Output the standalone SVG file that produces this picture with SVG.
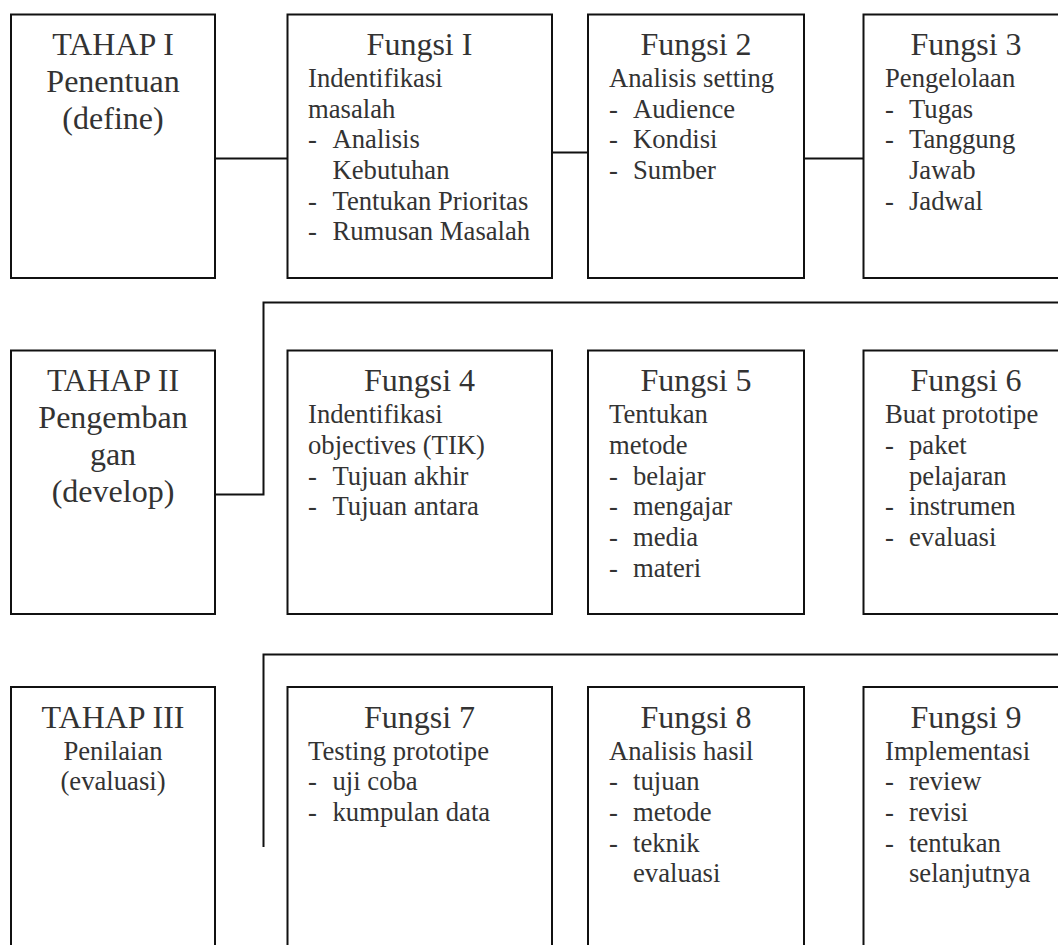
<svg xmlns="http://www.w3.org/2000/svg" width="1058" height="945" viewBox="0 0 1058 945">
<style>
.box{fill:#fff;stroke:#111;stroke-width:2}
.con{fill:none;stroke:#111;stroke-width:2}
text{font-family:"Liberation Serif","Times New Roman",serif;fill:#333}
.t{font-size:32px;text-anchor:middle}
.b{font-size:26.67px}
.bc{font-size:26.67px;text-anchor:middle}
</style>
<rect width="1058" height="945" fill="#fff"/>
<g id="connectors">
<line class="con" x1="215" y1="158.5" x2="287.5" y2="158.5"/>
<line class="con" x1="552" y1="152.5" x2="588" y2="152.5"/>
<line class="con" x1="804" y1="158.5" x2="863" y2="158.5"/>
<polyline class="con" points="215,494.5 263.5,494.5 263.5,302.5 1060,302.5"/>
<polyline class="con" points="263.5,847 263.5,654.5 1060,654.5"/>
</g>
<g id="tahap1">
<rect class="box" x="11" y="14.5" width="204" height="263.5"/>
<text class="t" x="113" y="55">TAHAP I</text>
<text class="t" x="113" y="91.8">Penentuan</text>
<text class="t" x="113" y="128.6">(define)</text>
</g>
<g id="fungsi1">
<rect class="box" x="287.5" y="14.5" width="264.5" height="263.5"/>
<text class="t" x="419.5" y="55">Fungsi I</text>
<text class="b" x="308" y="87">Indentifikasi</text>
<text class="b" x="308" y="117.7">masalah</text>
<text class="b" x="308" y="148.3">-</text><text class="b" x="332.5" y="148.3">Analisis</text>
<text class="b" x="332.5" y="179">Kebutuhan</text>
<text class="b" x="308" y="209.7">-</text><text class="b" x="332.5" y="209.7">Tentukan Prioritas</text>
<text class="b" x="308" y="240.3">-</text><text class="b" x="332.5" y="240.3">Rumusan Masalah</text>
</g>
<g id="fungsi2">
<rect class="box" x="588" y="14.5" width="216" height="263.5"/>
<text class="t" x="696" y="55">Fungsi 2</text>
<text class="b" x="609" y="87">Analisis setting</text>
<text class="b" x="609" y="117.7">-</text><text class="b" x="633" y="117.7">Audience</text>
<text class="b" x="609" y="148.3">-</text><text class="b" x="633" y="148.3">Kondisi</text>
<text class="b" x="609" y="179">-</text><text class="b" x="633" y="179">Sumber</text>
</g>
<g id="fungsi3">
<rect class="box" x="863.5" y="14.5" width="206" height="263.5"/>
<text class="t" x="966" y="55">Fungsi 3</text>
<text class="b" x="885" y="87">Pengelolaan</text>
<text class="b" x="885" y="117.7">-</text><text class="b" x="909" y="117.7">Tugas</text>
<text class="b" x="885" y="148.3">-</text><text class="b" x="909" y="148.3">Tanggung</text>
<text class="b" x="909" y="179">Jawab</text>
<text class="b" x="885" y="209.7">-</text><text class="b" x="909" y="209.7">Jadwal</text>
</g>
<g id="tahap2">
<rect class="box" x="11" y="350.5" width="204" height="263.5"/>
<text class="t" x="113" y="391.2">TAHAP II</text>
<text class="t" x="113" y="428">Pengemban</text>
<text class="t" x="113" y="464.8">gan</text>
<text class="t" x="113" y="501.6">(develop)</text>
</g>
<g id="fungsi4">
<rect class="box" x="287.5" y="350.5" width="264.5" height="263.5"/>
<text class="t" x="419.5" y="391.2">Fungsi 4</text>
<text class="b" x="308" y="423.2">Indentifikasi</text>
<text class="b" x="308" y="453.9">objectives (TIK)</text>
<text class="b" x="308" y="484.5">-</text><text class="b" x="332.5" y="484.5">Tujuan akhir</text>
<text class="b" x="308" y="515.2">-</text><text class="b" x="332.5" y="515.2">Tujuan antara</text>
</g>
<g id="fungsi5">
<rect class="box" x="588" y="350.5" width="216" height="263.5"/>
<text class="t" x="696" y="391.2">Fungsi 5</text>
<text class="b" x="609" y="423.2">Tentukan</text>
<text class="b" x="609" y="453.9">metode</text>
<text class="b" x="609" y="484.5">-</text><text class="b" x="633" y="484.5">belajar</text>
<text class="b" x="609" y="515.2">-</text><text class="b" x="633" y="515.2">mengajar</text>
<text class="b" x="609" y="545.9">-</text><text class="b" x="633" y="545.9">media</text>
<text class="b" x="609" y="576.5">-</text><text class="b" x="633" y="576.5">materi</text>
</g>
<g id="fungsi6">
<rect class="box" x="863.5" y="350.5" width="206" height="263.5"/>
<text class="t" x="966" y="391.2">Fungsi 6</text>
<text class="b" x="885" y="423.2">Buat prototipe</text>
<text class="b" x="885" y="453.9">-</text><text class="b" x="909" y="453.9">paket</text>
<text class="b" x="909" y="484.5">pelajaran</text>
<text class="b" x="885" y="515.2">-</text><text class="b" x="909" y="515.2">instrumen</text>
<text class="b" x="885" y="545.9">-</text><text class="b" x="909" y="545.9">evaluasi</text>
</g>
<g id="tahap3">
<rect class="box" x="11" y="687" width="204" height="280"/>
<text class="t" x="113" y="727.5">TAHAP III</text>
<text class="bc" x="113" y="759.5">Penilaian</text>
<text class="bc" x="113" y="790.2">(evaluasi)</text>
</g>
<g id="fungsi7">
<rect class="box" x="287.5" y="687" width="264.5" height="280"/>
<text class="t" x="419.5" y="727.5">Fungsi 7</text>
<text class="b" x="308" y="759.5">Testing prototipe</text>
<text class="b" x="308" y="790.2">-</text><text class="b" x="332.5" y="790.2">uji coba</text>
<text class="b" x="308" y="820.8">-</text><text class="b" x="332.5" y="820.8">kumpulan data</text>
</g>
<g id="fungsi8">
<rect class="box" x="588" y="687" width="216" height="280"/>
<text class="t" x="696" y="727.5">Fungsi 8</text>
<text class="b" x="609" y="759.5">Analisis hasil</text>
<text class="b" x="609" y="790.2">-</text><text class="b" x="633" y="790.2">tujuan</text>
<text class="b" x="609" y="820.8">-</text><text class="b" x="633" y="820.8">metode</text>
<text class="b" x="609" y="851.5">-</text><text class="b" x="633" y="851.5">teknik</text>
<text class="b" x="633" y="882.2">evaluasi</text>
</g>
<g id="fungsi9">
<rect class="box" x="863.5" y="687" width="206" height="280"/>
<text class="t" x="966" y="727.5">Fungsi 9</text>
<text class="b" x="885" y="759.5">Implementasi</text>
<text class="b" x="885" y="790.2">-</text><text class="b" x="909" y="790.2">review</text>
<text class="b" x="885" y="820.8">-</text><text class="b" x="909" y="820.8">revisi</text>
<text class="b" x="885" y="851.5">-</text><text class="b" x="909" y="851.5">tentukan</text>
<text class="b" x="909" y="882.2">selanjutnya</text>
</g>
</svg>
